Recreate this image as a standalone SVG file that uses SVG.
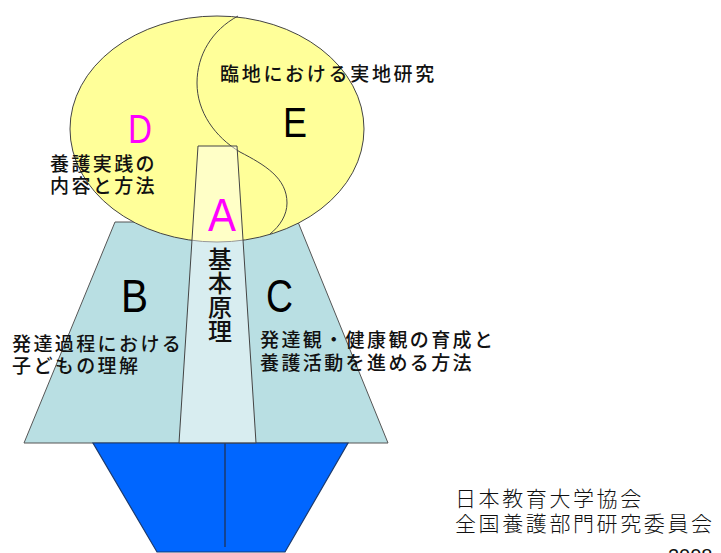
<svg xmlns="http://www.w3.org/2000/svg" width="721" height="553" viewBox="0 0 721 553">
<style>
.jp{font-family:"Noto Sans CJK JP","Noto Sans",sans-serif;font-size:19px;letter-spacing:2.4px;fill:#111;font-weight:500}
.big{font-family:"Liberation Sans",Arial,sans-serif;fill:#000}
.mag{fill:#ff00ff}
.foot{font-family:"Noto Sans CJK JP","Noto Sans",sans-serif;font-size:21px;letter-spacing:2.6px;fill:#111;font-weight:300}
</style>
<rect width="721" height="553" fill="#fff"/>
<g id="nodeBC">
<polygon points="115,222 298,222 388,443 24,443" fill="#b9dfe3" stroke="#555" stroke-width="1"/>
</g>
<g id="base">
<polygon points="93,443 348,443 285,552 157,552" fill="#0066ff" stroke="#1b3a6e" stroke-width="1.2"/>
<line x1="225" y1="443" x2="225" y2="547" stroke="#1b3a6e" stroke-width="1.5"/>
</g>
<g id="nodeDE">
<ellipse cx="217" cy="129" rx="147" ry="113" fill="#ffff99" stroke="#444" stroke-width="1"/>
<path d="M238,16 C212,30 197,55 197,83 C197,112 215,137 240,152 C265,165 287,178 287,203 C287,215 280,226 270,234" fill="none" stroke="#444" stroke-width="1"/>
</g>
<g id="nodeA">
<polygon points="198,146 237,146 256,443 179,443" fill="#ffffff" fill-opacity="0.45" stroke="#444" stroke-width="1"/>
</g>
<g id="labels">
<text class="big mag" x="128" y="143" font-size="41" textLength="24" lengthAdjust="spacingAndGlyphs">D</text>
<text class="big" x="283" y="137" font-size="42" textLength="24" lengthAdjust="spacingAndGlyphs">E</text>
<text class="big mag" x="208" y="231" font-size="47" textLength="28" lengthAdjust="spacingAndGlyphs">A</text>
<text class="big" x="121" y="312" font-size="47" textLength="27" lengthAdjust="spacingAndGlyphs">B</text>
<text class="big" x="266" y="312" font-size="47" textLength="27" lengthAdjust="spacingAndGlyphs">C</text>
<text class="jp" x="220" y="81" style="letter-spacing:2.7px">臨地における実地研究</text>
<text class="jp" x="50" y="171">養護実践の<tspan x="50" dy="22">内容と方法</tspan></text>
<text class="jp" x="12" y="351">発達過程における<tspan x="12" dy="22">子どもの理解</tspan></text>
<text class="jp" x="260" y="347">発達観・健康観の育成と<tspan x="260" dy="23">養護活動を進める方法</tspan></text>
<text class="jp" x="220" y="247" style="font-size:24px;letter-spacing:0;writing-mode:vertical-rl">基本原理</text>
<text class="foot" x="455" y="506">日本教育大学協会<tspan x="455" dy="25">全国養護部門研究委員会</tspan></text>
<text x="668" y="563" style="font-family:'Liberation Sans',Arial,sans-serif;font-size:20px;fill:#111">2008</text>
</g>
</svg>
